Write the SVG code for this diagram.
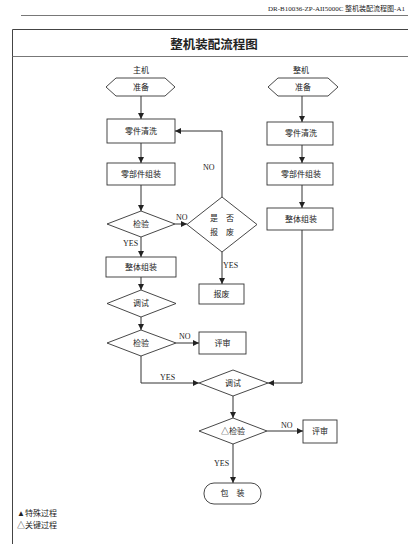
<svg xmlns="http://www.w3.org/2000/svg" width="408" height="544" viewBox="0 0 408 544">
<defs>
<style>
.ln{fill:none;stroke:#333;stroke-width:1}
.nd{fill:#fff;stroke:#333;stroke-width:0.9}
.t{font-family:"Liberation Serif","Noto Sans CJK SC",serif;font-size:8px;fill:#222;text-anchor:middle}
.lb{font-family:"Liberation Serif","Noto Sans CJK SC",serif;font-size:8px;fill:#222}
.fr{fill:none;stroke:#444;stroke-width:1}
</style>
<marker id="ah" viewBox="0 0 10 10" refX="10" refY="5" markerWidth="6" markerHeight="6" orient="auto" markerUnits="userSpaceOnUse">
<path d="M0,0 L10,5 L0,10 z" fill="#222"/>
</marker>
</defs>
<rect width="408" height="544" fill="#fff"/>
<text x="405" y="11" style="font-family:'Liberation Serif','Noto Sans CJK SC',serif;font-size:7px;fill:#222;text-anchor:end">DR-B10036-ZP-AII5000C 整机装配流程图-A1</text>
<line x1="21" y1="15.5" x2="408" y2="15.5" stroke="#555" stroke-width="0.8"/>
<g id="frame">
<polyline class="fr" points="12.5,544 12.5,29.5 408,29.5"/>
<line x1="12.5" y1="56.5" x2="408" y2="56.5" stroke="#777" stroke-width="1.2"/>
<text x="214" y="49" style="font-family:'Noto Sans CJK SC',sans-serif;font-size:12.5px;font-weight:bold;fill:#222;text-anchor:middle">整机装配流程图</text>
</g>
<text class="t" x="141" y="73">主机</text>
<text class="t" x="301" y="73">整机</text>
<g id="connectors">
<line class="ln" x1="141" y1="96" x2="141" y2="119" marker-end="url(#ah)"/>
<line class="ln" x1="141" y1="143" x2="141" y2="163" marker-end="url(#ah)"/>
<line class="ln" x1="141" y1="185" x2="141" y2="211" marker-end="url(#ah)"/>
<line class="ln" x1="175" y1="224" x2="187" y2="224" marker-end="url(#ah)"/>
<polyline class="ln" points="222,197 222,131 175,131" marker-end="url(#ah)"/>
<line class="ln" x1="222" y1="252" x2="222" y2="284" marker-end="url(#ah)"/>
<line class="ln" x1="141" y1="237" x2="141" y2="257" marker-end="url(#ah)"/>
<line class="ln" x1="141" y1="277" x2="141" y2="290" marker-end="url(#ah)"/>
<line class="ln" x1="141" y1="317" x2="141" y2="330" marker-end="url(#ah)"/>
<line class="ln" x1="176" y1="343" x2="199" y2="343" marker-end="url(#ah)"/>
<polyline class="ln" points="141,356 141,383 199,383" marker-end="url(#ah)"/>
<line class="ln" x1="302" y1="96" x2="302" y2="122" marker-end="url(#ah)"/>
<line class="ln" x1="302" y1="145" x2="302" y2="163" marker-end="url(#ah)"/>
<line class="ln" x1="302" y1="185" x2="302" y2="208" marker-end="url(#ah)"/>
<polyline class="ln" points="302,230 302,383 268,383" marker-end="url(#ah)"/>
<line class="ln" x1="233" y1="396" x2="233" y2="418" marker-end="url(#ah)"/>
<line class="ln" x1="267" y1="431" x2="303" y2="431" marker-end="url(#ah)"/>
<line class="ln" x1="233" y1="444" x2="233" y2="483" marker-end="url(#ah)"/>
<text class="lb" x="203" y="170">NO</text>
<text class="lb" x="176" y="220">NO</text>
<text class="lb" x="223" y="268">YES</text>
<text class="lb" x="123" y="246">YES</text>
<text class="lb" x="179" y="339">NO</text>
<text class="lb" x="160" y="380">YES</text>
<text class="lb" x="281" y="428">NO</text>
<text class="lb" x="214" y="466">YES</text>
</g>
<g id="n-zhunbei-1"><polygon class="nd" points="106,87 116,78 165,78 175,87 165,96 116,96"/><text class="t" x="141" y="90">准备</text></g>
<g id="n-qingxi-1"><rect class="nd" x="107" y="119" width="68" height="24"/><text class="t" x="141" y="134">零件清洗</text></g>
<g id="n-zuzhuang-1"><rect class="nd" x="107" y="163" width="68" height="22"/><text class="t" x="141" y="177">零部件组装</text></g>
<g id="n-jianyan-1"><polygon class="nd" points="107,224 141,211 175,224 141,237"/><text class="t" x="141" y="227">检验</text></g>
<g id="n-shifou"><polygon class="nd" points="187,224.5 222,197 257,224.5 222,252"/><text class="t" x="222" y="221">是　否</text><text class="t" x="222" y="235">报　废</text></g>
<g id="n-baofei"><rect class="nd" x="199" y="284" width="45" height="20"/><text class="t" x="221.5" y="297">报废</text></g>
<g id="n-zhengti-1"><rect class="nd" x="106" y="257" width="70" height="20"/><text class="t" x="141" y="270">整体组装</text></g>
<g id="n-tiaoshi-1"><polygon class="nd" points="107,303.5 141,290 176,303.5 141,317"/><text class="t" x="141" y="306">调试</text></g>
<g id="n-jianyan-2"><polygon class="nd" points="107,343 141,330 176,343 141,356"/><text class="t" x="141" y="346">检验</text></g>
<g id="n-pingshen-1"><rect class="nd" x="199" y="332" width="47" height="22"/><text class="t" x="222.5" y="346">评审</text></g>
<g id="n-zhunbei-2"><polygon class="nd" points="268,87 278,78 328,78 338,87 328,96 278,96"/><text class="t" x="303" y="90">准备</text></g>
<g id="n-qingxi-2"><rect class="nd" x="267" y="122" width="66" height="23"/><text class="t" x="301" y="136">零件清洗</text></g>
<g id="n-zuzhuang-2"><rect class="nd" x="267" y="163" width="66" height="22"/><text class="t" x="301" y="177">零部件组装</text></g>
<g id="n-zhengti-2"><rect class="nd" x="267" y="208" width="66" height="22"/><text class="t" x="301" y="222">整体组装</text></g>
<g id="n-tiaoshi-2"><polygon class="nd" points="199,383 233,370 268,383 233,396"/><text class="t" x="233" y="386">调试</text></g>
<g id="n-jianyan-3"><polygon class="nd" points="199,431 233,418 267,431 233,444"/><text class="t" x="233" y="434">△检验</text></g>
<g id="n-pingshen-2"><rect class="nd" x="303" y="420" width="34" height="23"/><text class="t" x="320" y="434">评审</text></g>
<g id="n-baozhuang"><rect class="nd" x="204" y="483" width="57" height="21" rx="10" ry="10"/><text class="t" x="232.5" y="496">包　装</text></g>
<g id="legend">
<text class="lb" x="17" y="516">▲特殊过程</text>
<text class="lb" x="17" y="528">△关键过程</text>
</g>
</svg>
